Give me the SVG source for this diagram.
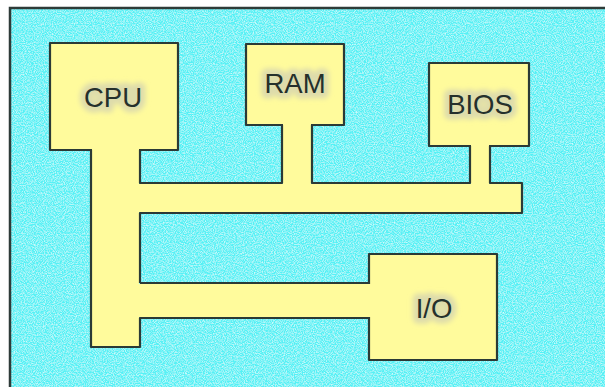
<svg xmlns="http://www.w3.org/2000/svg" width="605" height="387" viewBox="0 0 605 387">
<defs>
<filter id="tex" x="0" y="0" width="100%" height="100%">
<feTurbulence type="fractalNoise" baseFrequency="0.9" numOctaves="2" seed="7" result="n"/>
<feColorMatrix in="n" type="matrix" values="0 0 0 0 1  0 0 0 0 1  0 0 0 0 1  1.3 0 0 0 -0.5" result="w"/>
<feComposite in="w" in2="SourceAlpha" operator="in" result="s"/>
<feMerge><feMergeNode in="SourceGraphic"/><feMergeNode in="s"/></feMerge>
</filter>
<filter id="glow" x="-30%" y="-50%" width="160%" height="200%">
<feGaussianBlur stdDeviation="2.5"/>
</filter>
<style>
.box{fill:#fffb9c;stroke:#2b3a36;stroke-width:2.2;stroke-linejoin:round}
.cf{fill:#fffb9c;stroke:none}
.cs{fill:none;stroke:#2b3a36;stroke-width:2.2;stroke-linejoin:round}
.lbl{font-family:"Liberation Sans",Arial,sans-serif;font-size:27.5px;text-anchor:middle;fill:#25302c}
.halo{font-family:"Liberation Sans",Arial,sans-serif;font-size:27.5px;text-anchor:middle;fill:#dedcab;stroke:#dedcab;stroke-width:11;stroke-linejoin:round;filter:url(#glow)}
</style>
</defs>
<rect width="605" height="387" fill="#ffffff"/>
<rect x="10" y="8" width="620" height="400" fill="#55f1f5" filter="url(#tex)"/>
<rect x="10" y="8" width="620" height="400" fill="none" stroke="#2e3b38" stroke-width="2.5"/>
<g id="cpu">
<rect class="box" x="50" y="43" width="128" height="107"/>
<text class="halo" x="113" y="107">CPU</text>
<text class="lbl" x="113" y="107">CPU</text>
</g>
<g id="ram">
<rect class="box" x="246" y="44" width="98" height="81"/>
<text class="halo" x="295" y="93">RAM</text>
<text class="lbl" x="295" y="93">RAM</text>
</g>
<g id="bios">
<rect class="box" x="429" y="63" width="100" height="83"/>
<text class="halo" x="480" y="114">BIOS</text>
<text class="lbl" x="480" y="114">BIOS</text>
</g>
<g id="io">
<rect class="box" x="369" y="254" width="128" height="106"/>
<text class="halo" x="434" y="318">I/O</text>
<text class="lbl" x="434" y="318">I/O</text>
</g>
<g id="connectors">
<rect class="cf" x="92" y="147" width="47" height="199"/>
<rect class="cf" x="139" y="184" width="382" height="28"/>
<rect class="cf" x="283" y="122" width="28" height="62"/>
<rect class="cf" x="471" y="143" width="18" height="41"/>
<rect class="cf" x="139" y="284" width="232" height="33"/>
<path class="cs" d="M91,150 V347 H140 V318 H369"/>
<path class="cs" d="M140,283 H369"/>
<path class="cs" d="M140,150 V183 H282 V125"/>
<path class="cs" d="M312,125 V183 H470 V146"/>
<path class="cs" d="M490,146 V183 H522 V213 H140 V283"/>
</g>
</svg>
